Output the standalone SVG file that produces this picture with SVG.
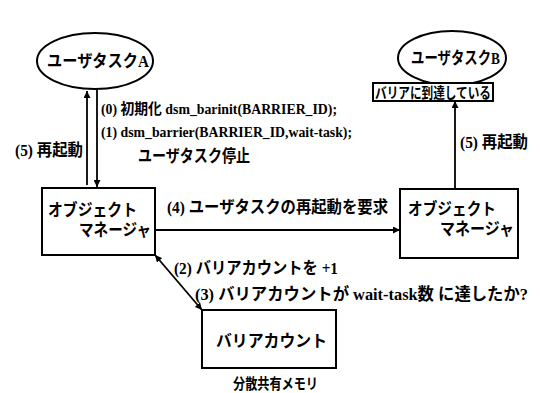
<svg xmlns="http://www.w3.org/2000/svg" width="541" height="393" viewBox="0 0 541 393">
<style>
text{font-family:"Liberation Serif","Noto Sans CJK JP",serif;font-size:16.5px;font-weight:bold;fill:#000}
.sm{font-size:15px}
.shape{fill:#fff;stroke:#000;stroke-width:2}
.line{fill:none;stroke:#000;stroke-width:1.8}
</style>
<defs>
<marker id="ah" viewBox="0 0 10 10" refX="10" refY="5" markerWidth="7" markerHeight="7" markerUnits="userSpaceOnUse" orient="auto-start-reverse">
<path d="M0,0 L10,5 L0,10 z" fill="#000"/>
</marker>
</defs>
<rect width="541" height="393" fill="#fff"/>
<g id="connectors">
<line class="line" x1="87" y1="185" x2="87" y2="91" marker-end="url(#ah)"/>
<line class="line" x1="97" y1="90" x2="97" y2="187" marker-end="url(#ah)"/>
<line class="line" x1="155" y1="230" x2="400" y2="230" marker-end="url(#ah)"/>
<line class="line" x1="455" y1="189" x2="455" y2="101" marker-end="url(#ah)"/>
<line class="line" x1="155" y1="255" x2="202" y2="310" marker-start="url(#ah)" marker-end="url(#ah)"/>
<text class="sm" x="101" y="114" textLength="236" lengthAdjust="spacingAndGlyphs">(0) 初期化 dsm_barinit(BARRIER_ID);</text>
<text class="sm" x="101" y="137" textLength="251" lengthAdjust="spacingAndGlyphs">(1) dsm_barrier(BARRIER_ID,wait-task);</text>
<text x="138" y="162" textLength="112" lengthAdjust="spacingAndGlyphs">ユーザタスク停止</text>
<text x="15" y="156" textLength="68" lengthAdjust="spacingAndGlyphs">(5) 再起動</text>
<text x="460" y="148" textLength="68" lengthAdjust="spacingAndGlyphs">(5) 再起動</text>
<text x="167" y="213" textLength="221" lengthAdjust="spacingAndGlyphs">(4) ユーザタスクの再起動を要求</text>
<text x="174" y="274" textLength="164" lengthAdjust="spacingAndGlyphs">(2) バリアカウントを +1</text>
<text x="195" y="300" textLength="333" lengthAdjust="spacingAndGlyphs">(3) バリアカウントが wait-task数 に達したか?</text>
</g>
<g id="taskA">
<ellipse class="shape" cx="95" cy="61" rx="58" ry="28"/>
<text x="47" y="67" textLength="102" lengthAdjust="spacingAndGlyphs">ユーザタスクA</text>
</g>
<g id="taskB">
<ellipse class="shape" cx="452" cy="58" rx="54" ry="27"/>
<text x="411" y="64" textLength="89" lengthAdjust="spacingAndGlyphs">ユーザタスクB</text>
</g>
<g id="reached">
<rect class="shape" x="373" y="83" width="120" height="18"/>
<text class="sm" x="375" y="98" textLength="116" lengthAdjust="spacingAndGlyphs">バリアに到達している</text>
</g>
<g id="omA">
<rect class="shape" x="42" y="188" width="113" height="67"/>
<text x="48" y="216" textLength="89" lengthAdjust="spacingAndGlyphs">オブジェクト</text>
<text x="79" y="236" textLength="72" lengthAdjust="spacingAndGlyphs">マネージャ</text>
</g>
<g id="omB">
<rect class="shape" x="400" y="189" width="118" height="69"/>
<text x="408" y="215" textLength="88" lengthAdjust="spacingAndGlyphs">オブジェクト</text>
<text x="440" y="235" textLength="74" lengthAdjust="spacingAndGlyphs">マネージャ</text>
</g>
<g id="counter">
<rect class="shape" x="202" y="310" width="134" height="58"/>
<text x="216" y="347" textLength="111" lengthAdjust="spacingAndGlyphs">バリアカウント</text>
<text class="sm" x="233" y="389" textLength="85" lengthAdjust="spacingAndGlyphs">分散共有メモリ</text>
</g>
</svg>
